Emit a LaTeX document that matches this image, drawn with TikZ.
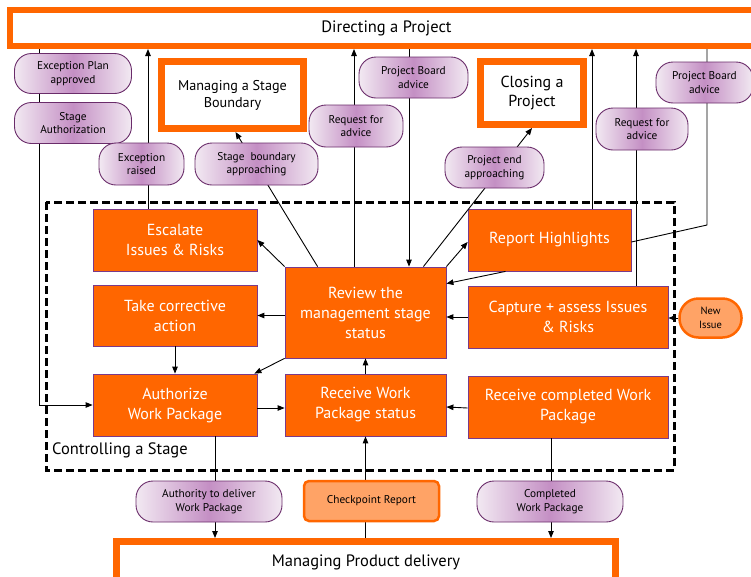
\documentclass[tikz,border=0pt]{standalone}
\usepackage{fontspec}
\setmainfont{PT Sans}
\usetikzlibrary{arrows.meta}
\definecolor{org}{HTML}{FF6600}
\definecolor{lorg}{HTML}{FFA366}
\definecolor{pur}{HTML}{6A2C6A}
\definecolor{lavL}{HTML}{F2E9F2}
\definecolor{lavD}{HTML}{C48FC4}
\definecolor{boxedge}{HTML}{7A3A8A}
\begin{document}
\begin{tikzpicture}[x=1pt,y=-1pt,
 mainbox/.style={fill=org, draw=boxedge, line width=0.8pt, text=white, font=\fontsize{16}{20}\selectfont, align=center, inner sep=2pt},
 pill/.style={draw=pur, line width=0.9pt, left color=lavL, right color=lavL, middle color=lavD, rounded corners=17pt, font=\fontsize{11.3}{13.5}\selectfont, align=center, inner sep=1pt},
 bigbox/.style={draw=org, fill=white, line width=7pt, align=center, inner sep=2pt},
 arr/.style={line width=0.9pt, -{Triangle[length=7pt,width=5.5pt]}},
 ln/.style={line width=0.9pt}]
\useasboundingbox (0,0) rectangle (751,576);
\clip (0,0) rectangle (751,576);
% x positions of vertical connectors
\coordinate (c39) at (39,0);
\coordinate (c148) at (148,0);
\coordinate (c215) at (215,0);
\coordinate (c354) at (354,0);
\coordinate (c409) at (409,0);
\coordinate (c592) at (592,0);
\coordinate (c636) at (636,0);
\coordinate (c707) at (707,0);
\coordinate (c551) at (551,0);
\coordinate (k1) at (707,225);
% big boxes
\node[bigbox, line width=6pt, minimum width=753pt, minimum height=36pt, font=\fontsize{16.5}{19}\selectfont] (dap) at (386.5,28) {Directing a Project};
\node[bigbox, minimum width=142pt, minimum height=67pt, font=\fontsize{14.2}{17}\selectfont] (msb) at (232.5,95) {Managing a Stage\\Boundary};
\node[bigbox, minimum width=103pt, minimum height=63pt, font=\fontsize{16}{18.5}\selectfont] (clo) at (532,93) {Closing a\\Project};
\node[bigbox, minimum width=499pt, minimum height=41pt, font=\fontsize{16.5}{19}\selectfont] (mpd) at (366,562) {Managing Product delivery};
% dashed stage frame
\draw[line width=3pt, dash pattern=on 8pt off 4pt] (46,202) rectangle (674,470);
\node[anchor=west, font=\fontsize{16.5}{19}\selectfont, inner sep=1pt] (cas) at (51,450) {Controlling a Stage};
% process boxes
\node[mainbox, minimum width=164pt, minimum height=62pt] (esc) at (175,240) {Escalate\\Issues \& Risks};
\node[mainbox, minimum width=164pt, minimum height=61pt] (tca) at (175,315.5) {Take corrective\\action};
\node[mainbox, minimum width=164pt, minimum height=62pt] (auth) at (175,405) {Authorize\\Work Package};
\node[mainbox, minimum width=161pt, minimum height=91pt] (rev) at (365.5,312.5) {Review the\\management stage\\status};
\node[mainbox, minimum width=161pt, minimum height=62pt] (rws) at (365.5,405) {Receive Work\\Package status};
\node[mainbox, minimum width=163pt, minimum height=62pt] (rh) at (549.5,240) {Report Highlights};
\node[mainbox, minimum width=200pt, minimum height=62pt] (cap) at (568,317) {Capture + assess Issues\\\& Risks};
\node[mainbox, minimum width=200pt, minimum height=62pt] (rcw) at (568,407) {Receive completed Work\\Package};
\node[draw=org, fill=lorg, line width=2.5pt, rounded corners=19pt, minimum width=62pt, minimum height=39pt, align=center, font=\fontsize{10.5}{13.5}\selectfont, inner sep=1pt] (new) at (710.5,318) {New\\Issue};
% connectors
\draw[arr] (dap.south -| c39) |- (auth.west);
\draw[arr] (esc.north -| c148) -- (dap.south -| c148);
\draw[arr] ([xshift=33pt]rev.north west) -- ([xshift=3pt]msb.south);
\draw[arr] (rev.north -| c354) -- (dap.south -| c354);
\draw[arr] (dap.south -| c409) -- (rev.north -| c409);
\draw[arr] ([xshift=-23pt]rev.north east) -- (clo.south);
\draw[arr] (rh.north -| c592) -- (dap.south -| c592);
\draw[arr] (cap.north -| c636) -- (dap.south -| c636);
\draw[ln] (dap.south -| c707) -- (k1) -- ([yshift=-2pt]rh.east);
\draw[arr] (rev.north east) -- ([yshift=-2pt]rh.west);
\draw[arr] ([xshift=-44pt]rh.south) -- ([yshift=-17pt]rev.north east);
\draw[arr] (rev.north west) -- (esc.east);
\draw[arr] (rev.west |- tca.east) -- (tca.east);
\draw[arr] (tca.south) -- (auth.north);
\draw[arr] (rev.south west) -- ([xshift=-3pt]auth.north east);
\draw[arr] ([yshift=-3pt]auth.east) -- ([yshift=-3pt]rws.west);
\draw[arr] (rws.north) -- (rev.south);
\draw[arr] ([yshift=-1pt]rcw.west) -- (rcw.west -| rws.east);
\draw[arr] (cap.west) -- (cap.west -| rev.east);
\draw[arr] (new.west) -- (new.west -| cap.east);
\draw[arr] (auth.south -| c215) -- (mpd.north -| c215);
\draw[arr] (mpd.north -| rws.south) -- (rws.south);
\draw[arr] (rcw.south -| c551) -- (mpd.north -| c551);
% labels on connectors
\node[pill, minimum width=117pt, minimum height=40pt] (p1) at (73,73.5) {Exception Plan\\approved};
\node[pill, minimum width=117pt, minimum height=41pt] (p2) at (73,123) {Stage\\Authorization};
\node[pill, minimum width=85pt, minimum height=42pt] (p3) at (141.5,164) {Exception\\raised};
\node[pill, minimum width=123pt, minimum height=42pt] (p4) at (256.5,164) {Stage\ \ boundary\\approaching};
\node[pill, minimum width=94pt, minimum height=42pt] (p5) at (356,126) {Request for\\advice};
\node[pill, minimum width=109pt, minimum height=41pt] (p6) at (413.5,77.5) {Project Board\\advice};
\node[pill, minimum width=99pt, minimum height=41pt] (p7) at (494.5,167.5) {Project end\\approaching};
\node[pill, minimum width=92pt, minimum height=42pt] (p8) at (642,129) {Request for\\advice};
\node[pill, minimum width=97pt, minimum height=41pt] (p9) at (704.5,82.5) {Project Board\\advice};
\node[pill, minimum width=146pt, minimum height=41pt] (p10) at (209,501.5) {Authority to deliver\\Work Package};
\node[draw=org, fill=lorg, line width=2.5pt, rounded corners=5pt, minimum width=135pt, minimum height=40pt, font=\fontsize{11.3}{13.5}\selectfont] (p11) at (371.5,501) {Checkpoint Report};
\node[pill, minimum width=146pt, minimum height=41pt] (p12) at (550,501.5) {Completed\\Work Package};
\end{tikzpicture}
\end{document}
